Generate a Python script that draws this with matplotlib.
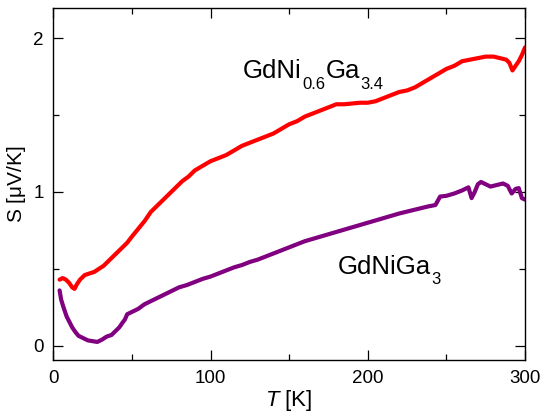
import matplotlib
matplotlib.use('Agg')
import matplotlib.pyplot as plt
from matplotlib.ticker import MultipleLocator, FixedLocator
from matplotlib.transforms import offset_copy

# GdNi0.6Ga3.4 (red)
T_red = [4, 6, 8, 10, 12, 13.5, 15, 17, 20, 23, 26, 29, 32, 35, 38, 41, 44, 47, 50,
         54, 58, 62, 66, 70, 74, 78, 82, 86, 90, 95, 100, 105, 110, 115, 120, 125,
         130, 135, 140, 145, 150, 155, 160, 165, 170, 175, 180, 185, 190, 195, 200,
         205, 210, 215, 220, 225, 230, 235, 240, 245, 250, 255, 260, 265, 270, 275,
         280, 284, 288, 290, 292, 294, 296, 298, 300]
S_red = [0.43, 0.44, 0.43, 0.41, 0.38, 0.37, 0.40, 0.43, 0.46, 0.47, 0.48, 0.50, 0.52,
         0.55, 0.58, 0.61, 0.64, 0.67, 0.71, 0.76, 0.81, 0.87, 0.91, 0.95, 0.99, 1.03,
         1.07, 1.10, 1.14, 1.17, 1.20, 1.22, 1.24, 1.27, 1.30, 1.32, 1.34, 1.36, 1.38,
         1.41, 1.44, 1.46, 1.49, 1.51, 1.53, 1.55, 1.57, 1.57, 1.575, 1.58, 1.58, 1.59,
         1.61, 1.63, 1.65, 1.66, 1.68, 1.71, 1.74, 1.77, 1.80, 1.82, 1.85, 1.86, 1.87,
         1.88, 1.88, 1.87, 1.86, 1.84, 1.79, 1.82, 1.85, 1.89, 1.94]

# GdNiGa3 (purple)
T_pur = [4, 5, 6.5, 8.5, 10, 12, 14, 16, 19, 22, 25, 28, 31, 34, 37, 40, 42, 44, 45.5,
         47, 50, 54, 58, 62, 66, 70, 75, 80, 85, 90, 95, 100, 105, 110, 115, 120, 125,
         130, 135, 140, 145, 150, 160, 170, 180, 190, 200, 210, 220, 230, 238, 243,
         246, 250, 255, 260, 264, 266, 268, 270, 272, 275, 278, 282, 286, 289, 291.5,
         294, 296, 298, 300]
S_pur = [0.36, 0.30, 0.25, 0.19, 0.16, 0.12, 0.09, 0.065, 0.05, 0.035, 0.03, 0.025,
         0.04, 0.06, 0.07, 0.10, 0.12, 0.15, 0.17, 0.205, 0.22, 0.24, 0.27, 0.29, 0.31,
         0.33, 0.355, 0.38, 0.395, 0.415, 0.435, 0.45, 0.47, 0.49, 0.51, 0.525, 0.545,
         0.56, 0.58, 0.60, 0.62, 0.64, 0.68, 0.71, 0.74, 0.77, 0.80, 0.83, 0.86, 0.885,
         0.905, 0.915, 0.97, 0.975, 0.99, 1.01, 1.03, 0.96, 1.0, 1.05, 1.065, 1.05,
         1.035, 1.045, 1.055, 1.04, 0.99, 1.02, 1.025, 0.96, 0.95]

plt.rcParams['font.family'] = ['Liberation Sans', 'DejaVu Sans']
plt.rcParams['mathtext.fontset'] = 'custom'
plt.rcParams['mathtext.rm'] = 'Liberation Sans'
plt.rcParams['mathtext.it'] = 'Liberation Sans:italic'

fig = plt.figure(figsize=(5.41, 4.12), dpi=100)
ax = fig.add_axes([0.0985, 0.126, 0.872, 0.855])

ax.plot(T_red, S_red, color='#ff0000', lw=3.0, solid_capstyle='round')
ax.plot(T_pur, S_pur, color='#800080', lw=3.0, solid_capstyle='round')

ax.set_xlim(0, 300)
ax.set_ylim(-0.093, 2.197)
ax.xaxis.set_major_locator(MultipleLocator(100))
ax.xaxis.set_minor_locator(MultipleLocator(50))
ax.yaxis.set_major_locator(MultipleLocator(1))
ax.yaxis.set_minor_locator(FixedLocator([0.5, 1.5]))
ax.tick_params(which='both', direction='in', top=True, right=True,
               labelsize=13.5, width=0.9)
ax.tick_params(which='major', length=7, pad=7)
ax.tick_params(which='minor', length=4)
for s in ax.spines.values():
    s.set_linewidth(1.0)

ax.set_xlabel(r'$\mathit{T}$ [K]', fontsize=16, labelpad=1)
ax.set_ylabel(r'S [$\mathrm{\mu}$V/K]', fontsize=15, labelpad=4)


def formula(x, y, parts):
    # parts: (text, is_subscript); pieces placed one after another
    renderer = fig.canvas.get_renderer()
    dx = 0.0
    for txt, sub in parts:
        size = 12 if sub else 18.5
        dy = -7.5 if sub else 0
        tr = offset_copy(ax.transData, fig=fig, x=dx, y=dy, units='points')
        t = ax.text(x, y, txt, fontsize=size, transform=tr)
        w = t.get_window_extent(renderer).width
        dx += w * 72.0 / fig.dpi + 0.3


formula(120.5, 1.74, [('GdNi', False), ('0.6', True), ('Ga', False), ('3.4', True)])
formula(181, 0.467, [('GdNiGa', False), ('3', True)])

fig.savefig('out.png', dpi=100)
